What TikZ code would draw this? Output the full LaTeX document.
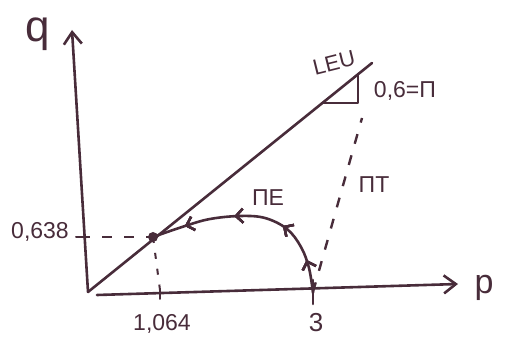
\documentclass[tikz,border=0pt]{standalone}
\usepackage{fontspec}
\setmainfont{Liberation Sans}
\usetikzlibrary{arrows.meta,decorations.markings}
\definecolor{ink}{RGB}{72,44,58}
\tikzset{
  pen/.style={draw=ink, line width=1.3pt, line cap=round, line join=round},
  axis/.style={pen, -{Straight Barb[length=6pt,width=9pt,line width=1.3pt]}},
  guide/.style={draw=ink, line width=1pt, dash pattern=on 5pt off 6pt},
  lbl/.style={text=ink, inner sep=0pt, font=\fontsize{11.5}{11.5}\selectfont},
  flowarrow/.style={decoration={markings,
    mark=at position #1 with {\arrow{Straight Barb[length=3.5pt,width=7pt,line width=1.2pt]}}}, postaction=decorate},
}
\begin{document}
\begin{tikzpicture}[x=0.5pt,y=-0.5pt]
\useasboundingbox (0,0) rectangle (509,341);
% named points
\coordinate (O) at (88,292);
\coordinate (Ytip) at (72,30);
\coordinate (Xs) at (97,295);
\coordinate (Xtip) at (458,284);
\coordinate (Lend) at (372,63);
\coordinate (E) at (153,237);
\coordinate (Eaxis) at (160,290);
\coordinate (Qtick) at (80,237);
\coordinate (Qtickl) at (76,237);
\coordinate (T3) at (313,292);
\coordinate (T3top) at (313,280);
\coordinate (T3bot) at (313,304);
\coordinate (T1top) at (160,289);
\coordinate (T1bot) at (160,299);
\coordinate (Dtop) at (362,118);
\coordinate (Ta) at (322,103);
\coordinate (Tb) at (358,103);
\coordinate (Tc) at (358,74);
% axes
\draw[axis] (O) -- (Ytip);
\draw[axis] (Xs) -- (Xtip);
% LEU line and slope triangle
\draw[pen] (O) -- (Lend);
\draw[pen] (Ta) -- (Tb) -- (Tc);
% ticks
\draw[pen] (T3top) -- (T3bot);
\draw[pen, line width=1pt] (T1top) -- (T1bot);
\draw[pen, line width=1pt] (Qtickl) -- (Qtick);
% dashed guides
\draw[guide] (Qtick) -- (E);
\draw[guide, dash pattern=on 3pt off 5pt] (E) -- (Eaxis);
\draw[guide, line width=1.2pt] (T3) -- (Dtop);
% trajectory
\draw[pen, flowarrow/.list={0.16,0.36,0.6,0.84}]
  plot[smooth, tension=0.6] coordinates {(313,293) (309,268) (301,247) (287,229) (265,218) (240,216) (210,219) (185,226) (153,237)};
\fill[ink] (E) circle (5);
% labels
\node[lbl, font=\fontsize{22}{22}\selectfont] (q) at (38,34) {q};
\node[lbl, font=\fontsize{17}{17}\selectfont] (p) at (484,288) {p};
\node[lbl] (v) at (40,232) {0,638};
\node[lbl] (h) at (162,324) {1,064};
\node[lbl, font=\fontsize{13}{13}\selectfont] (three) at (316,323) {3};
\node[lbl, font=\fontsize{11}{11}\selectfont, rotate=14] (leu) at (334,63) {LEU};
\node[lbl] (slope) at (405,91) {0,6=Π};
\node[lbl] (pe) at (268,198) {ΠE};
\node[lbl] (pt) at (374,185) {ΠT};
\end{tikzpicture}
\end{document}
